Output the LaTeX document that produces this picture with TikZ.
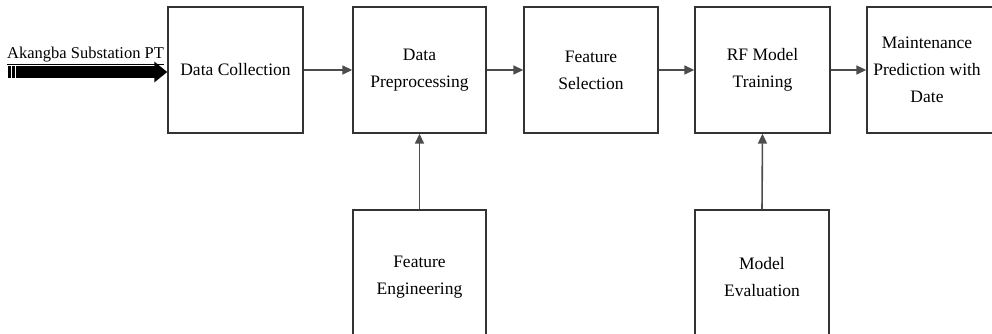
\documentclass[tikz,border=0pt]{standalone}
\usepackage{fontspec}
\setmainfont{Liberation Serif}
\usetikzlibrary{arrows.meta}
\begin{document}
\begin{tikzpicture}[x=1pt,y=1pt,
  box/.style={draw=black!80, line width=1.4pt, fill=white, align=center,
    inner sep=0pt, font=\fontsize{17.5}{27}\selectfont},
  conn/.style={draw=black!70, line width=1.6pt, -{Triangle[length=10pt,width=9pt]}}]
\useasboundingbox (0,0) rectangle (992,334);
\begin{scope}
\clip (0,0) rectangle (992,334);
\node[box, minimum width=135pt, minimum height=126pt] (dc) at (235.5,264) {Data Collection};
\node[box, minimum width=133pt, minimum height=126pt] (dp) at (419.5,264) {Data\\Preprocessing};
\node[box, minimum width=134pt, minimum height=126pt] (fs) at (591,264) {Feature\\Selection};
\node[box, minimum width=135pt, minimum height=126pt] (rf) at (762.5,264) {RF Model\\Training};
\node[box, minimum width=134pt, minimum height=126pt] (mp) at (934,264) {\hspace*{-14pt}Maintenance\\\hspace*{-14pt}Prediction with\\\hspace*{-14pt}Date};
\node[box, minimum width=133pt, minimum height=135pt] (fe) at (419.5,56.5) {Feature\\Engineering};
\node[box, minimum width=134pt, minimum height=135pt] (me) at (762,56.5) {Model\\Evaluation};
\end{scope}
\draw[conn] (dc.east) -- (dp.west);
\draw[conn] (dp.east) -- (fs.west);
\draw[conn] (fs.east) -- (rf.west);
\draw[conn] (rf.east) -- (mp.west);
\draw[conn] (fe.north) -- (dp.south);
\draw[conn] (me.north) -- (rf.south);
\coordinate (src) at (8,262);
\draw[line width=12pt, -{Triangle[length=13pt 0 0, width=20pt 0 0]}] (src) -- (dc.west |- src);
\draw[white, line width=0.8pt] (11,255) -- (11,269) (15,255) -- (15,269);
\node[anchor=base west, inner sep=0pt, font=\fontsize{16.5}{18}\selectfont] (lbl) at (7,275) {\underline{Akangba Substation PT}};
\end{tikzpicture}
\end{document}
